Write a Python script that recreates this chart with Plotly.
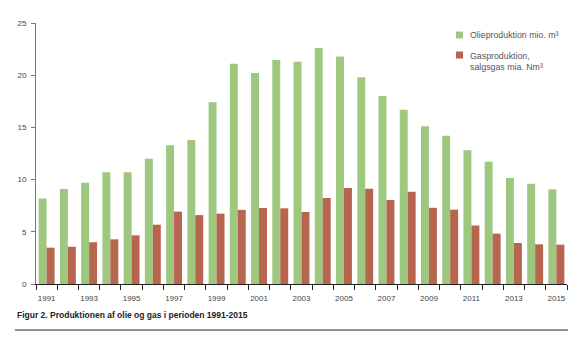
import plotly.graph_objects as go

years = list(range(1991, 2016))
olie = [8.2, 9.1, 9.7, 10.7, 10.7, 12.0, 13.3, 13.8, 17.4, 21.1, 20.2, 21.45, 21.3,
        22.6, 21.8, 19.8, 18.0, 16.7, 15.1, 14.2, 12.8, 11.7, 10.15, 9.6, 9.07]
gas = [3.48, 3.57, 4.0, 4.28, 4.66, 5.68, 6.93, 6.6, 6.74, 7.1, 7.28, 7.25, 6.9,
       8.24, 9.2, 9.13, 8.05, 8.84, 7.3, 7.12, 5.6, 4.82, 3.93, 3.8, 3.77]
tick_years = years[::2]
y_ticks = [0, 5, 10, 15, 20, 25]
series_names = ["Olieproduktion mio. m³", "Gasproduktion,<br>salgsgas mia. Nm³"]

GREEN = "#9ec87f"
RED = "#b8654f"
FONT = "Liberation Sans"

W, H = 582, 338
M = dict(l=36, r=15, t=23, b=54)
PW = W - M["l"] - M["r"]
PH = H - M["t"] - M["b"]


def px_x(px):
    return (px - M["l"]) / PW


def px_y(py):
    return (H - M["b"] - py) / PH


fig = go.Figure()
fig.add_trace(go.Bar(x=years, y=olie, name=series_names[0],
                     marker=dict(color=GREEN, line=dict(width=0))))
fig.add_trace(go.Bar(x=years, y=gas, name=series_names[1],
                     marker=dict(color=RED, line=dict(width=0))))

fig.update_layout(
    width=W, height=H, margin=M,
    paper_bgcolor="white", plot_bgcolor="white",
    barmode="group", bargap=0.25, bargroupgap=0,
    font=dict(family=FONT, size=8, color="#444"),
    showlegend=False,
)

fig.update_xaxes(
    range=[years[0] - 0.5, years[-1] + 0.5],
    tickmode="array", tickvals=tick_years, ticktext=[str(y) for y in tick_years],
    ticks="", showgrid=False, zeroline=False,
    showline=True, linecolor="#222", linewidth=1,
    minor=dict(tickmode="array", tickvals=[y - 0.5 for y in years] + [years[-1] + 0.5],
               ticks="outside", ticklen=5, tickcolor="#222", showgrid=False),
    tickfont=dict(size=8, color="#444"), ticklabelstandoff=6,
)
fig.update_yaxes(
    range=[0, 25], tickmode="array", tickvals=y_ticks,
    ticks="outside", ticklen=4, tickcolor="#777",
    showgrid=False, zeroline=False,
    showline=True, linecolor="#777", linewidth=1,
    tickfont=dict(size=8, color="#444"), ticklabelstandoff=3,
)

# legend: colour swatches with labels
legend_rows = [(GREEN, series_names[0], 35, 35), (RED, series_names[1], 55, 61)]
for color, label, sq_y, txt_y in legend_rows:
    fig.add_shape(type="rect", xref="paper", yref="paper",
                  x0=px_x(456), x1=px_x(463), y0=px_y(sq_y + 3.5), y1=px_y(sq_y - 3.5),
                  fillcolor=color, line=dict(width=0))
    fig.add_annotation(text=label, xref="paper", yref="paper",
                       x=px_x(468), y=px_y(txt_y), xanchor="left", yanchor="middle",
                       align="left", showarrow=False,
                       font=dict(family=FONT, size=8.8, color="#555"))

fig.add_annotation(
    text="<b>Figur 2. Produktionen af olie og gas i perioden 1991-2015</b>",
    xref="paper", yref="paper", x=px_x(15), y=px_y(315), xanchor="left", yanchor="middle",
    showarrow=False, font=dict(family=FONT, size=8.5, color="#222"),
)
fig.add_shape(type="line", xref="paper", yref="paper",
              x0=px_x(15), x1=px_x(568), y0=px_y(330), y1=px_y(330),
              line=dict(color="#222", width=1))

fig.write_html("out.html")
